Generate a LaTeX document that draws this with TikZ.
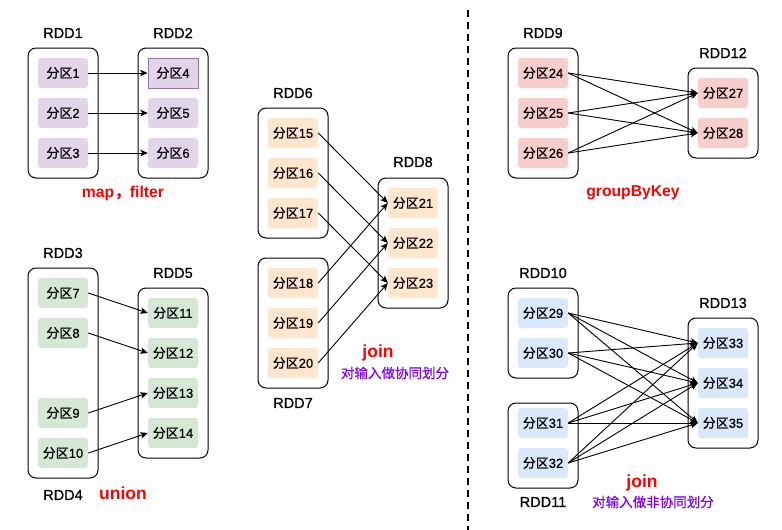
\documentclass[tikz,border=0pt]{standalone}
\usepackage{fontspec}
\setmainfont{Liberation Sans}
\newfontfamily\semi[FakeBold=0.6]{Liberation Sans}
\newfontfamily\cjk{Noto Sans CJK SC}
\newfontfamily\cjksemi[FakeBold=0.6]{Noto Sans CJK SC}
\usetikzlibrary{arrows.meta}
\definecolor{cpurple}{HTML}{E1D5E7}
\definecolor{cpurpled}{HTML}{9673A6}
\definecolor{cgreen}{HTML}{D5E8D4}
\definecolor{corange}{HTML}{FFE6CC}
\definecolor{cred}{HTML}{F8CECC}
\definecolor{cblue}{HTML}{DAE8FC}
\definecolor{opred}{HTML}{FF0000}
\definecolor{notepurple}{HTML}{7F00FF}
\newcommand{\fq}[1]{{\cjksemi 分区}#1}
\tikzset{
  rddbox/.style={draw=black, line width=1pt, rounded corners=8pt, minimum width=70pt, inner sep=0pt},
  part/.style={rounded corners=3pt, minimum width=50pt, minimum height=30pt, inner sep=0pt, font=\fontsize{13}{15}\selectfont\semi},
  rddlabel/.style={font=\fontsize{14.5}{16}\selectfont\semi, inner sep=0pt},
  oplabel/.style={font=\fontsize{15.7}{18}\selectfont\bfseries, text=opred, inner sep=0pt},
  oplabelbig/.style={font=\fontsize{17.5}{20}\selectfont\bfseries, text=opred, inner sep=0pt},
  notelabel/.style={font=\fontsize{13.5}{16}\selectfont\cjksemi, text=notepurple, inner sep=0pt},
  arr/.style={line width=0.9pt, -{Stealth[length=7.5pt,width=6.5pt,inset=2pt]}}
}
\begin{document}
\begin{tikzpicture}[x=1pt,y=-1pt]
\useasboundingbox[fill=white] (0,0) rectangle (782,530);
% ---------- map, filter ----------
\node[rddbox, minimum height=130pt] (c1) at (63,113) {};
\node[rddbox, minimum height=130pt] (c2) at (173,113) {};
\node[rddlabel] (l1) at (63,33) {RDD1};
\node[rddlabel] (l2) at (173,33) {RDD2};
\node[part, fill=cpurple] (p1) at (63,73) {\fq{1}};
\node[part, fill=cpurple] (p2) at (63,113) {\fq{2}};
\node[part, fill=cpurple] (p3) at (63,153) {\fq{3}};
\node[part, fill=cpurple, draw=cpurpled, line width=1pt, rounded corners=0pt] (p4) at (173,73) {\fq{4}};
\node[part, fill=cpurple] (p5) at (173,113) {\fq{5}};
\node[part, fill=cpurple] (p6) at (173,153) {\fq{6}};
\node[oplabel] (o1) at (123,193) {map{\cjk ，}filter};
\draw[arr] (p1.east) -- (p4.west);
\draw[arr] (p2.east) -- (p5.west);
\draw[arr] (p3.east) -- (p6.west);
% ---------- union ----------
\node[rddbox, minimum height=210pt] (c3) at (63,373) {};
\node[rddbox, minimum height=170pt] (c5) at (173,373) {};
\node[rddlabel] (l3) at (63,253) {RDD3};
\node[rddlabel] (l4) at (63,495) {RDD4};
\node[rddlabel] (l5) at (173,273) {RDD5};
\node[part, fill=cgreen] (p7) at (63,293) {\fq{7}};
\node[part, fill=cgreen] (p8) at (63,333) {\fq{8}};
\node[part, fill=cgreen] (p9) at (63,413) {\fq{9}};
\node[part, fill=cgreen] (p10) at (63,453) {\fq{10}};
\node[part, fill=cgreen] (p11) at (173,313) {\fq{11}};
\node[part, fill=cgreen] (p12) at (173,353) {\fq{12}};
\node[part, fill=cgreen] (p13) at (173,393) {\fq{13}};
\node[part, fill=cgreen] (p14) at (173,433) {\fq{14}};
\node[oplabelbig] (o2) at (123,493) {union};
\draw[arr] (p7.east) -- (p11.west);
\draw[arr] (p8.east) -- (p12.west);
\draw[arr] (p9.east) -- (p13.west);
\draw[arr] (p10.east) -- (p14.west);
% ---------- join (co-partitioned) ----------
\node[rddbox, minimum height=130pt] (c6) at (293,173) {};
\node[rddbox, minimum height=130pt] (c7) at (293,323) {};
\node[rddbox, minimum height=130pt] (c8) at (413,243) {};
\node[rddlabel] (l6) at (293,93) {RDD6};
\node[rddlabel] (l7) at (293,403) {RDD7};
\node[rddlabel] (l8) at (413,162) {RDD8};
\node[part, fill=corange] (p15) at (293,133) {\fq{15}};
\node[part, fill=corange] (p16) at (293,173) {\fq{16}};
\node[part, fill=corange] (p17) at (293,213) {\fq{17}};
\node[part, fill=corange] (p18) at (293,283) {\fq{18}};
\node[part, fill=corange] (p19) at (293,323) {\fq{19}};
\node[part, fill=corange] (p20) at (293,363) {\fq{20}};
\node[part, fill=corange] (p21) at (413,203) {\fq{21}};
\node[part, fill=corange] (p22) at (413,243) {\fq{22}};
\node[part, fill=corange] (p23) at (413,283) {\fq{23}};
\node[oplabelbig] (o3) at (378,353) {join};
\node[notelabel] (n3) at (395,373) {对输入做协同划分};
\draw[arr] (p15.east) -- (p21.west);
\draw[arr] (p16.east) -- (p22.west);
\draw[arr] (p17.east) -- (p23.west);
\draw[arr] (p18.east) -- (p21.west);
\draw[arr] (p19.east) -- (p22.west);
\draw[arr] (p20.east) -- (p23.west);
% ---------- divider ----------
\coordinate (dtop) at (468,10);
\coordinate (dbot) at (468,530);
\draw[line width=2pt, dash pattern=on 7pt off 5pt] (dtop) -- (dbot);
% ---------- groupByKey ----------
\node[rddbox, minimum height=130pt] (c9) at (543,113) {};
\node[rddbox, minimum height=90pt] (c12) at (723,113) {};
\node[rddlabel] (l9) at (543,33) {RDD9};
\node[rddlabel] (l12) at (723,53) {RDD12};
\node[part, fill=cred] (p24) at (543,73) {\fq{24}};
\node[part, fill=cred] (p25) at (543,113) {\fq{25}};
\node[part, fill=cred] (p26) at (543,153) {\fq{26}};
\node[part, fill=cred] (p27) at (723,93) {\fq{27}};
\node[part, fill=cred] (p28) at (723,133) {\fq{28}};
\node[oplabel] (o4) at (633,193) {groupByKey};
\foreach \s in {24,25,26}{
  \foreach \t in {27,28}{
    \draw[arr] (p\s.east) -- (p\t.west);
  }
}
% ---------- join (not co-partitioned) ----------
\node[rddbox, minimum height=90pt] (c10) at (543,333) {};
\node[rddbox, minimum height=85pt] (c11) at (543,445.5) {};
\node[rddbox, minimum height=130pt] (c13) at (723,383) {};
\node[rddlabel] (l10) at (543,273) {RDD10};
\node[rddlabel] (l11) at (543,502) {RDD11};
\node[rddlabel] (l13) at (723,303) {RDD13};
\node[part, fill=cblue] (p29) at (543,313) {\fq{29}};
\node[part, fill=cblue] (p30) at (543,353) {\fq{30}};
\node[part, fill=cblue] (p31) at (543,423) {\fq{31}};
\node[part, fill=cblue] (p32) at (543,463) {\fq{32}};
\node[part, fill=cblue] (p33) at (723,343) {\fq{33}};
\node[part, fill=cblue] (p34) at (723,383) {\fq{34}};
\node[part, fill=cblue] (p35) at (723,423) {\fq{35}};
\node[oplabelbig] (o5) at (642,483) {join};
\node[notelabel] (n5) at (653,502) {对输入做非协同划分};
\foreach \s in {29,30,31,32}{
  \foreach \t in {33,34,35}{
    \draw[arr] (p\s.east) -- (p\t.west);
  }
}
\end{tikzpicture}
\end{document}
